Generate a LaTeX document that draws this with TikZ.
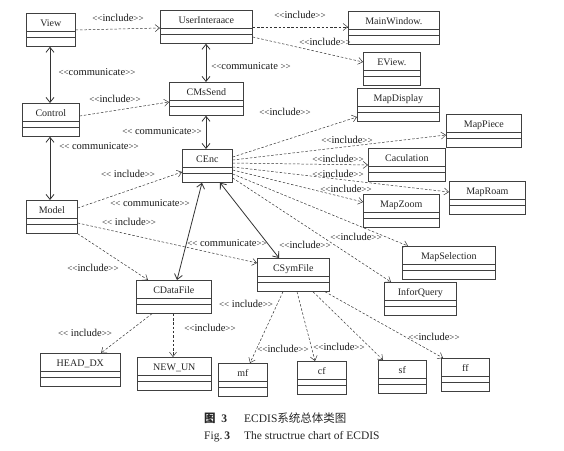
\documentclass[tikz,border=0pt]{standalone}
\usepackage{fontspec}
\setmainfont{Liberation Serif}[Ligatures=TeXOff]
\newfontfamily\cjk{Noto Sans CJK SC}
\usetikzlibrary{arrows.meta,calc}
\definecolor{boxc}{gray}{0.25}
\definecolor{linec}{gray}{0.2}
\newcommand\lsg{{\fontsize{9}{10}\selectfont<<}}
\newcommand\rsg{{\fontsize{9}{10}\selectfont>>}}
\tikzset{
  clsbox/.style={draw=boxc, line width=0.7pt, rectangle, inner xsep=0pt, inner ysep=0pt,
    text height=13pt, text depth=20pt, font=\fontsize{10}{12}\selectfont, anchor=north west, text=black!85},
  clsline/.style={draw=boxc, line width=0.6pt},
  inc/.style={draw=linec, line width=0.5pt, dash pattern=on 2.5pt off 1.8pt,
    -{Straight Barb[length=4.5pt,width=7pt]}},
  com/.style={draw=linec, line width=0.8pt,
    {Straight Barb[length=5pt,width=8pt]}-{Straight Barb[length=5pt,width=8pt]}},
  lab/.style={font=\fontsize{10.5}{12}\selectfont, inner sep=0pt, text=black!90},
  captext/.style={font=\fontsize{11.5}{13}\selectfont, inner sep=0pt, anchor=base west, text=black!85}
}
\newcommand\umlclass[5]{%
  \node[clsbox, minimum width=#4pt] (#1) at (#2,#3) {#5};
  \draw[clsline] ($(#1.north west)+(0,18)$) -- ($(#1.north east)+(0,18)$)
                 ($(#1.north west)+(0,24)$) -- ($(#1.north east)+(0,24)$);
}
\begin{document}
\begin{tikzpicture}[x=1pt,y=-1pt]
\useasboundingbox[fill=white] (0,0) rectangle (564,450);
% classes
\umlclass{view}{26}{13}{49}{View}
\umlclass{ui}{160}{10}{92}{UserInteraace}
\umlclass{mainwin}{348}{11}{91}{MainWindow.}
\umlclass{eview}{363}{52}{57}{EView.}
\umlclass{mapdisplay}{357}{88}{82}{MapDisplay}
\umlclass{mappiece}{446}{114}{75}{MapPiece}
\umlclass{cmssend}{169}{82}{74}{CMsSend}
\umlclass{control}{22}{103}{57}{Control}
\umlclass{cenc}{182}{149}{50}{CEnc}
\umlclass{model}{26}{200}{51}{Model}
\umlclass{caculation}{368}{148}{77}{Caculation}
\umlclass{maproam}{449}{181}{76}{MapRoam}
\umlclass{mapzoom}{363}{194}{76}{MapZoom}
\umlclass{mapselection}{402}{246}{93}{MapSelection}
\umlclass{inforquery}{384}{282}{72}{InforQuery}
\umlclass{csymfile}{257}{258}{72}{CSymFile}
\umlclass{cdatafile}{136}{280}{75}{CDataFile}
\umlclass{headdx}{40}{353}{80}{HEAD\_DX}
\umlclass{newun}{137}{357}{74}{NEW\_UN}
\umlclass{mf}{218}{363}{49}{mf}
\umlclass{cf}{297}{361}{49}{cf}
\umlclass{sf}{378}{360}{48}{sf}
\umlclass{ff}{441}{358}{48}{ff}
% connectors
\draw[inc] ($(view.north east)+(0,17)$) -- ($(ui.north west)+(0,18)$);
\draw[inc] ($(ui.north east)+(0,17)$) -- ($(mainwin.north west)+(0,16)$);
\draw[inc] ($(ui.north east)+(0,27)$) -- ($(eview.north west)+(0,10)$);
\draw[com] ($(view.south west)+(24,0)$) -- ($(control.north west)+(28,0)$);
\draw[com] ($(ui.south west)+(46,0)$) -- ($(cmssend.north west)+(37,0)$);
\draw[inc] ($(control.north east)+(0,13)$) -- ($(cmssend.north west)+(0,20)$);
\draw[com] ($(cmssend.south west)+(37,0)$) -- ($(cenc.north west)+(24,0)$);
\draw[com] ($(control.south west)+(28,0)$) -- ($(model.north west)+(24,0)$);
\draw[inc] ($(model.north east)+(0,8)$) -- ($(cenc.north west)+(0,23)$);
\draw[inc] ($(model.north east)+(0,23)$) -- ($(csymfile.north west)+(0,5)$);
\draw[inc] (model.south east) -- ($(cdatafile.north west)+(12,0)$);
\draw[com] ($(cenc.south west)+(20,0)$) -- ($(cdatafile.north west)+(41,0)$);
\draw[com] ($(cenc.south west)+(38,0)$) -- ($(csymfile.north west)+(22,0)$);
\draw[inc] ($(cenc.north east)+(0,8)$) -- ($(mapdisplay.north west)+(0,29)$);
\draw[inc] ($(cenc.north east)+(0,11)$) -- ($(mappiece.north west)+(0,21)$);
\draw[inc] ($(cenc.north east)+(0,14)$) -- ($(caculation.north west)+(0,17)$);
\draw[inc] ($(cenc.north east)+(0,18)$) -- ($(maproam.north west)+(0,11)$);
\draw[inc] ($(cenc.north east)+(0,21)$) -- ($(mapzoom.north west)+(0,8)$);
\draw[inc] ($(cenc.north east)+(0,25)$) -- ($(mapselection.north west)+(6,0)$);
\draw[inc] ($(cenc.north east)+(0,29)$) -- ($(inforquery.north west)+(7,0)$);
\draw[inc] ($(csymfile.south west)+(26,0)$) -- ($(mf.north west)+(32,0)$);
\draw[inc] ($(csymfile.south west)+(40,0)$) -- ($(cf.north west)+(18,0)$);
\draw[inc] ($(csymfile.south west)+(56,0)$) -- ($(sf.north west)+(5,0)$);
\draw[inc] ($(csymfile.south west)+(68,0)$) -- ($(ff.north west)+(2,0)$);
\draw[inc] ($(cdatafile.south west)+(16,0)$) -- ($(headdx.north west)+(61,0)$);
\draw[inc] ($(cdatafile.south west)+(37,0)$) -- ($(newun.north west)+(36,0)$);
% labels
\node[lab] (l1) at (118,18) {\lsg{}include\rsg};
\node[lab] (l2) at (300,15) {\lsg{}include\rsg};
\node[lab] (l3) at (325,42) {\lsg{}include\rsg};
\node[lab] (l4) at (97,72) {\lsg{}communicate\rsg};
\node[lab] (l5) at (251,66) {\lsg{}communicate \rsg};
\node[lab] (l6) at (115,99) {\lsg{}include\rsg};
\node[lab] (l7) at (162,131) {\lsg{} communicate\rsg};
\node[lab] (l8) at (99,146) {\lsg{} communicate\rsg};
\node[lab] (l9) at (285,112) {\lsg{}include\rsg};
\node[lab] (l10) at (347,140) {\lsg{}include\rsg};
\node[lab] (l11) at (338,159) {\lsg{}include\rsg};
\node[lab] (l12) at (338,174) {\lsg{}include\rsg};
\node[lab] (l13) at (346,189) {\lsg{}include\rsg};
\node[lab] (l14) at (128,174) {\lsg{} include\rsg};
\node[lab] (l15) at (150,203) {\lsg{} communicate\rsg};
\node[lab] (l16) at (129,222) {\lsg{} include\rsg};
\node[lab] (l17) at (93,268) {\lsg{}include\rsg};
\node[lab] (l18) at (227,243) {\lsg{} communicate\rsg};
\node[lab] (l19) at (356,237) {\lsg{}include\rsg};
\node[lab] (l20) at (305,245) {\lsg{}include\rsg};
\node[lab] (l21) at (246,304) {\lsg{} include\rsg};
\node[lab] (l22) at (283,349) {\lsg{}include\rsg};
\node[lab] (l23) at (339,347) {\lsg{}include\rsg};
\node[lab] (l24) at (434,337) {\lsg{}include\rsg};
\node[lab] (l25) at (85,333) {\lsg{} include\rsg};
\node[lab] (l26) at (210,328) {\lsg{}include\rsg};
% caption
\node[captext] (c1) at (204,422) {{\cjk\bfseries 图}\ \ \textbf{3}};
\node[captext] (c2) at (244,422) {ECDIS{\cjk 系统总体类图}};
\node[captext] (c3) at (204,439) {Fig.\,\textbf{3}};
\node[captext] (c4) at (244,439) {The structrue chart of ECDIS};
\end{tikzpicture}
\end{document}
